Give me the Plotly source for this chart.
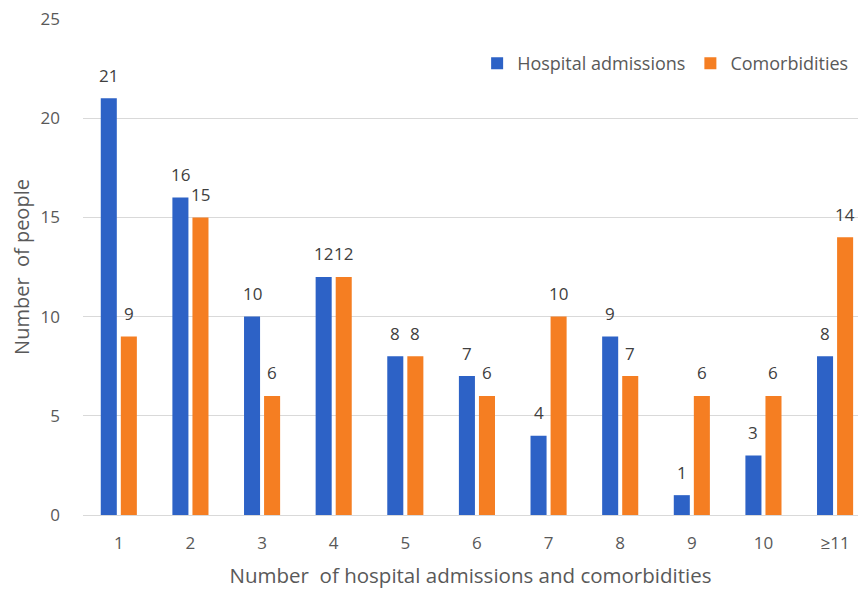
import plotly.graph_objects as go

categories = ["1", "2", "3", "4", "5", "6", "7", "8", "9", "10", "≥11"]
hospital_admissions = [21, 16, 10, 12, 8, 7, 4, 9, 1, 3, 8]
comorbidities = [9, 15, 6, 12, 8, 6, 10, 7, 6, 6, 14]
y_ticks = [0, 5, 10, 15, 20, 25]

BLUE = "#2D62C6"
ORANGE = "#F57E22"
FONT = "Open Sans"
GRAY = "#595959"

x = list(range(len(categories)))
off = 0.14

fig = go.Figure()
fig.add_trace(go.Bar(x=x, y=hospital_admissions, name="Hospital admissions",
                     marker=dict(color=BLUE, line=dict(width=0))))
fig.add_trace(go.Bar(x=x, y=comorbidities, name="Comorbidities",
                     marker=dict(color=ORANGE, line=dict(width=0))))

annotations = []
for i, v in enumerate(hospital_admissions):
    annotations.append(dict(x=i - off, y=v, text=str(v), showarrow=False, yshift=23,
                            xref="x", yref="y", font=dict(family=FONT, size=17, color="#404040")))
for i, v in enumerate(comorbidities):
    annotations.append(dict(x=i + off, y=v, text=str(v), showarrow=False, yshift=23,
                            xref="x", yref="y", font=dict(family=FONT, size=17, color="#404040")))

fig.update_layout(
    width=858, height=591,
    margin=dict(l=83, r=0, t=19, b=76),
    paper_bgcolor="white", plot_bgcolor="white",
    barmode="group", bargap=0.44, bargroupgap=0.2,
    font=dict(family=FONT, size=17, color=GRAY),
    showlegend=True,
    legend=dict(orientation="h", x=0.995, xanchor="right", y=0.91, yanchor="middle",
                font=dict(family=FONT, size=18, color=GRAY), itemwidth=30,
                bgcolor="rgba(0,0,0,0)", traceorder="normal"),
    annotations=annotations,
    xaxis=dict(range=[-0.5, 10.32], tickmode="array", tickvals=x, ticktext=categories,
               showgrid=False, zeroline=False, showline=False, ticks="",
               ticklabelstandoff=16, tickfont=dict(size=17, color=GRAY),
               title=dict(text="Number  of hospital admissions and comorbidities",
                          font=dict(size=20.5, color=GRAY), standoff=15)),
    yaxis=dict(range=[0, 25], tickmode="array", tickvals=y_ticks,
               showgrid=True, gridcolor="#D9D9D9", gridwidth=1,
               zeroline=True, zerolinecolor="#D9D9D9", zerolinewidth=1,
               showline=False, ticks="", ticklabelstandoff=22,
               tickfont=dict(size=17, color=GRAY),
               title=dict(text="Number  of people", font=dict(size=20, color=GRAY), standoff=5)),
)

fig.write_html("out.html")
